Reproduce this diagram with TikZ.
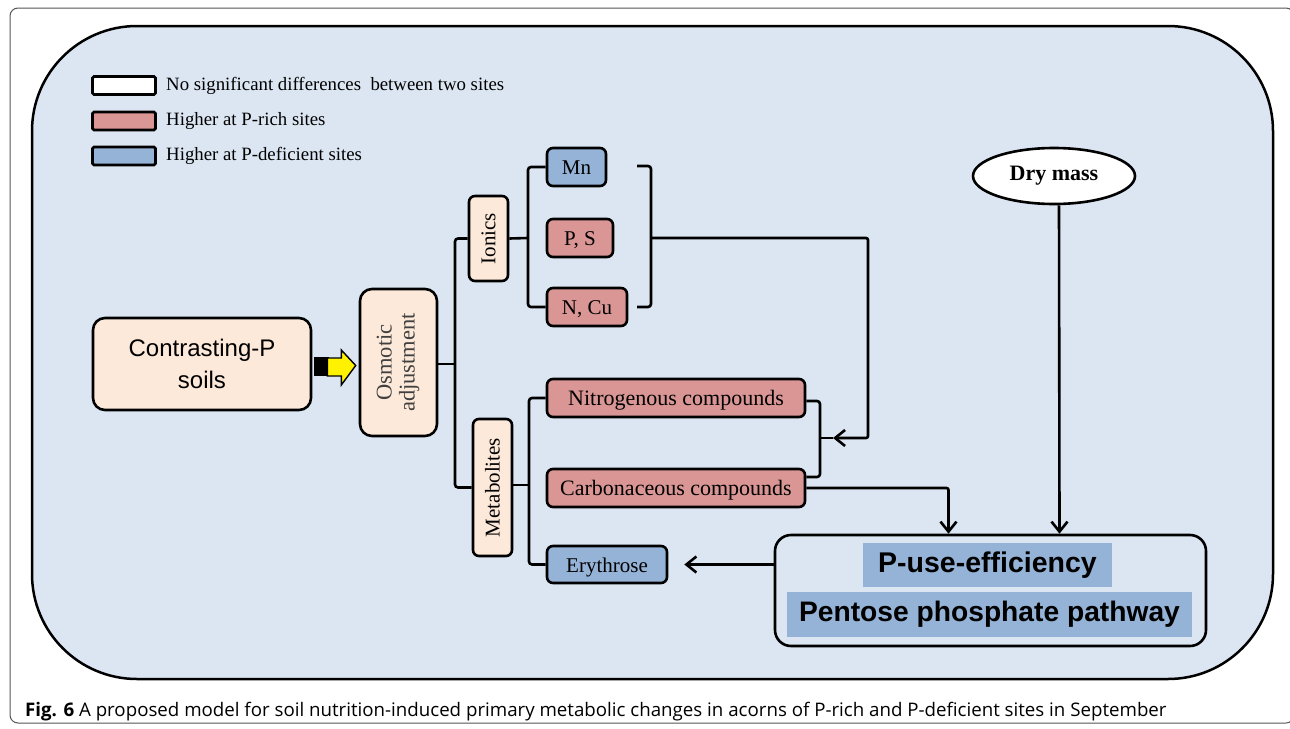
\documentclass[tikz,border=0pt]{standalone}
\usepackage{fontspec}
\setmainfont{Liberation Serif}
\newfontfamily\arialf{Liberation Sans}
\newfontfamily\capf{Open Sans}
\usetikzlibrary{arrows.meta,shapes.geometric,calc}
\definecolor{panel}{HTML}{DCE6F2}
\definecolor{peach}{HTML}{FDE9D9}
\definecolor{rich}{HTML}{D99694}
\definecolor{defi}{HTML}{95B3D7}
\definecolor{framec}{HTML}{555555}
\begin{document}
\begin{tikzpicture}[x=1pt,y=-1pt,
  lw/.style={line width=2.6pt},
  box/.style={draw=black, lw, rounded corners=6pt, inner sep=0pt, font=\fontsize{21}{25}\selectfont},
  hbox/.style={box, text height=15pt, text depth=0pt},
  bigbox/.style={hbox, font=\fontsize{22}{26}\selectfont},
  legbox/.style={draw=black, lw, rounded corners=1.5pt, minimum width=63, minimum height=18, inner sep=0pt},
  legtxt/.style={anchor=west, inner sep=0pt, font=\fontsize{18.8}{22}\selectfont},
  conn/.style={lw, rounded corners=3pt},
  arr/.style={lw, -{Straight Barb[length=10pt,width=16pt]}},
]
\useasboundingbox (0,0) rectangle (1290,728);
\fill[white] (0,0) rectangle (1290,728);
\draw[framec, line width=1pt, rounded corners=8pt, fill=white] (10,8) rectangle (1294,723);
\draw[line width=2.5pt, fill=panel, rounded corners=105pt] (32,26) rectangle (1273,679);

% legend
\node[legbox, fill=white] (lw1) at (124,85.5) {};
\node[legbox, fill=rich] (lr1) at (124,121) {};
\node[legbox, fill=defi] (lb1) at (124,156) {};
\node[legtxt] (lwt) at (166,85.5) {No significant differences \ between two sites};
\node[legtxt] (lrt) at (166,121) {Higher at P-rich sites};
\node[legtxt] (lbt) at (166,156) {Higher at P-deficient sites};

% main nodes
\node[box, fill=peach, rounded corners=12pt, minimum width=218, minimum height=92, align=center,
      font=\arialf\fontsize{24}{32}\selectfont] (soil) at (202,364) {Contrasting-P\\soils};
\node[box, fill=peach, rounded corners=12pt, minimum width=77, minimum height=147,
      font=\fontsize{22.5}{23}\selectfont, text=black!75] (osm) at (398.5,362.5)
      {\rotatebox{90}{\begin{tabular}{@{}c@{}}Osmotic\\adjustment\end{tabular}}};
\node[box, fill=peach, minimum width=39, minimum height=85] (ion) at (488.5,238.5) {\rotatebox{90}{Ionics}};
\node[box, fill=peach, minimum width=39, minimum height=137] (met) at (492.5,487.5) {\rotatebox{90}{Metabolites}};

\node[hbox, fill=defi, minimum width=59, minimum height=38] (mn) at (576.5,167) {Mn};
\node[hbox, fill=rich, minimum width=66, minimum height=38] (ps) at (580,238) {P, S};
\node[hbox, fill=rich, minimum width=80, minimum height=38] (ncu) at (587,307) {N, Cu};

\node[bigbox, fill=rich, minimum width=258, minimum height=38] (nit) at (676,398) {Nitrogenous compounds};
\node[bigbox, fill=rich, minimum width=258, minimum height=38] (carb) at (676,488) {Carbonaceous compounds};
\node[hbox, fill=defi, minimum width=120, minimum height=37] (ery) at (607,564.5) {Erythrose};

\node[ellipse, draw=black, lw, fill=white, minimum width=162, minimum height=56, inner sep=0pt,
      font=\bfseries\fontsize{22}{26}\selectfont] (dry) at (1054,176) {Dry mass};

\node[draw=black, lw, fill=panel, rounded corners=16pt, minimum width=431, minimum height=111, inner sep=0pt] (pue) at (990.5,590.5) {};
\node[fill=defi, minimum width=249, minimum height=44, inner sep=0pt,
      font=\arialf\bfseries\fontsize{28.5}{32}\selectfont] (puel) at (987.5,565) {P-use-efficiency};
\node[fill=defi, minimum width=405, minimum height=45, inner sep=0pt,
      font=\arialf\bfseries\fontsize{28.2}{32}\selectfont] (ppp) at (989.5,614.5) {Pentose phosphate pathway};

% yellow block arrow soil -> osmotic
\fill[black] ($(soil.east)+(2,-7)$) rectangle ($(soil.east)+(17,12)$);
\draw[line width=1.4pt, fill=yellow, line join=miter]
  ($(soil.east)+(15,-6)$) -- ($(soil.east)+(29,-6)$) -- ($(soil.east)+(29,-14)$)
  -- ($(osm.west)+(-3,3)$) -- ($(soil.east)+(29,21)$) -- ($(soil.east)+(29,12)$)
  -- ($(soil.east)+(15,12)$) -- cycle;

% bracket osmotic -> ionics / metabolites
\coordinate (b1) at (455,364);
\draw[conn] (osm.east |- b1) -- (b1);
\draw[conn] (ion.west) -| (b1) |- (met.west);

% bracket ionics -> Mn, P S, N Cu
\coordinate (b2) at (528,238);
\draw[conn] (ion.east) -- (b2);
\draw[conn] (mn.west) -| (b2) |- (ncu.west);

% right bracket of ions
\coordinate (r1) at (637,166);
\coordinate (r2) at (651,166);
\coordinate (r3) at (651,307);
\coordinate (r4) at (637,307);
\coordinate (rm) at (651,238);
\coordinate (k1) at (868,238);
\coordinate (k2) at (868,438);
\draw[conn] (r1) -- (r2) -- (r3) -- (r4);

% bracket metabolites -> nit / ery
\coordinate (b3) at (529,485);
\draw[conn] (met.east |- b3) -- (b3);
\draw[conn] (nit.west) -| (b3) |- (ery.west);

% right bracket of nit / carb
\coordinate (j) at (820,438);
\coordinate (jt) at (833,438);
\draw[conn] ($(nit.east)+(0,3)$) -| (j) |- ($(carb.east)+(0,-11)$);
\draw[lw] (j) -- (jt);
\draw[arr, rounded corners=2pt] (rm) -- (k1) -- (k2) -- (jt);

% to P-use-efficiency box
\draw[arr, rounded corners=2pt] (carb.east) -| ($(pue.north)+(-42,0)$);
\draw[arr] ($(dry.south)+(5,0)$) -- ($(pue.north)+(69,0)$);
\draw[arr] (pue.west |- ery.east) -- ($(ery.east)+(16,0)$);

% caption
\node[anchor=base west, inner sep=0pt, font=\capf\fontsize{18.7}{24}\selectfont] (cap) at (25,716)
  {\textbf{Fig. 6} A proposed model for soil nutrition-induced primary metabolic changes in acorns of P-rich and P-deficient sites in September};
\end{tikzpicture}
\end{document}
